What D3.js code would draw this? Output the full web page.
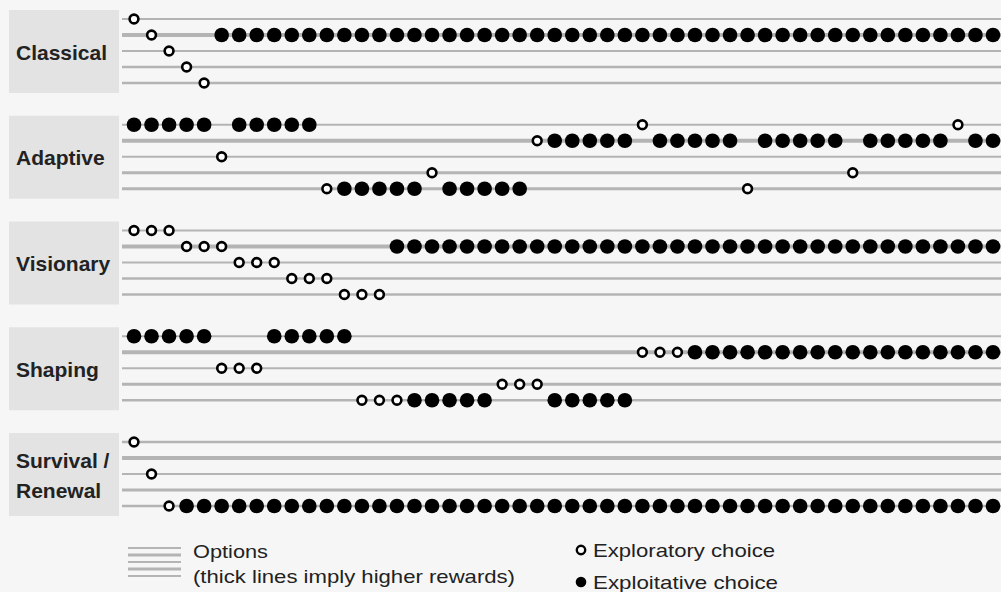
<!DOCTYPE html>
<html>
<head>
<meta charset="utf-8">
<script src="https://cdn.jsdelivr.net/npm/d3@7"></script>
<style>
  body { margin: 0; background: #f6f6f6; }
  text { font-family: "Liberation Sans", Arial, sans-serif; fill: #222; }
</style>
</head>
<body>
<svg id="chart" width="1001" height="592"></svg>
<script>
// strategies, top to bottom
var strategies = ['Classical', 'Adaptive', 'Visionary', 'Shaping', 'Survival / Renewal'];

// choices as runs: [option row, 'o' exploratory / 'x' exploitative, number of steps]
var classicalRuns = [[0,'o',1],[1,'o',1],[2,'o',1],[3,'o',1],[4,'o',1],[1,'x',45]];
var adaptiveRuns = [[0,'x',5],[2,'o',1],[0,'x',5],[4,'o',1],[4,'x',5],[3,'o',1],[4,'x',5],
  [1,'o',1],[1,'x',5],[0,'o',1],[1,'x',5],[4,'o',1],[1,'x',5],[3,'o',1],[1,'x',5],
  [0,'o',1],[1,'x',2]];
var visionaryRuns = [[0,'o',3],[1,'o',3],[2,'o',3],[3,'o',3],[4,'o',3],[1,'x',35]];
var shapingRuns = [[0,'x',5],[2,'o',3],[0,'x',5],[4,'o',3],[4,'x',5],[3,'o',3],[4,'x',5],
  [1,'o',3],[1,'x',18]];
var survivalRuns = [[0,'o',1],[2,'o',1],[4,'o',1],[4,'x',47]];
var allRuns = [classicalRuns, adaptiveRuns, visionaryRuns, shapingRuns, survivalRuns];

// option line weights (thicker = higher reward)
var optionWeights = [
  [2, 4, 2, 2.5, 2.5],
  [2, 4, 2, 3, 3],
  [2, 4, 2, 2.5, 2.5],
  [2, 4, 2, 3, 2.5],
  [2.5, 4, 2, 3, 2.5]
];

var legendWeights = [2, 3, 2, 3, 2];

var svg = d3.select('#chart');

var x = d3.scaleLinear().domain([0, 49]).range([134, 993]);
var panelY = d3.scaleLinear().domain([0, 4]).range([10, 433]);
var rowY = d3.scaleLinear().domain([0, 4]).range([9, 73]);

function expand(runs) {
  var out = [];
  runs.forEach(function (r) {
    for (var k = 0; k < r[2]; k++) out.push({ row: r[0], type: r[1] });
  });
  out.forEach(function (d, i) { d.step = i; });
  return out;
}

strategies.forEach(function (name, i) {
  var g = svg.append('g').attr('transform', 'translate(0,' + panelY(i) + ')');

  g.append('rect')
    .attr('x', 9).attr('y', 0)
    .attr('width', 110).attr('height', 83)
    .attr('fill', '#e3e3e3');

  var words = name === 'Survival / Renewal' ? ['Survival /', 'Renewal'] : [name];
  g.selectAll('text.label').data(words).enter()
    .append('text')
      .attr('class', 'label')
      .attr('x', 16)
      .attr('y', function (d, j) { return 42 + (j - (words.length - 1) / 2) * 30; })
      .attr('dy', '0.36em')
      .attr('font-size', 21)
      .attr('font-weight', 'bold')
      .text(function (d) { return d; });

  g.selectAll('line.opt').data(optionWeights[i]).enter()
    .append('line')
      .attr('class', 'opt')
      .attr('x1', 122).attr('x2', 1001)
      .attr('y1', function (d, r) { return rowY(r); })
      .attr('y2', function (d, r) { return rowY(r); })
      .attr('stroke', '#b4b4b4')
      .attr('stroke-width', function (d) { return d; });

  var choices = expand(allRuns[i]);
  g.selectAll('circle').data(choices).enter()
    .append('circle')
      .attr('cx', function (d) { return x(d.step); })
      .attr('cy', function (d) { return rowY(d.row); })
      .attr('r', function (d) { return d.type === 'x' ? 7.3 : 4.4; })
      .attr('fill', function (d) { return d.type === 'x' ? '#000' : '#fff'; })
      .attr('stroke', '#000')
      .attr('stroke-width', function (d) { return d.type === 'x' ? 0 : 2.6; });
});

// legend
var lg = svg.append('g');
lg.selectAll('line').data(legendWeights).enter()
  .append('line')
    .attr('x1', 128).attr('x2', 181)
    .attr('y1', function (d, k) { return 548 + k * 7; })
    .attr('y2', function (d, k) { return 548 + k * 7; })
    .attr('stroke', '#b4b4b4')
    .attr('stroke-width', function (d) { return d; });

lg.append('text').attr('x', 193).attr('y', 558).attr('font-size', 19)
  .attr('textLength', 75).attr('lengthAdjust', 'spacingAndGlyphs').text('Options');
lg.append('text').attr('x', 193).attr('y', 583).attr('font-size', 19)
  .attr('textLength', 322).attr('lengthAdjust', 'spacingAndGlyphs').text('(thick lines imply higher rewards)');

lg.append('circle').attr('cx', 581).attr('cy', 550).attr('r', 4.2)
  .attr('fill', '#fff').attr('stroke', '#000').attr('stroke-width', 2.4);
lg.append('text').attr('x', 593).attr('y', 557).attr('font-size', 19)
  .attr('textLength', 182).attr('lengthAdjust', 'spacingAndGlyphs').text('Exploratory choice');
lg.append('circle').attr('cx', 581).attr('cy', 582).attr('r', 5.3).attr('fill', '#000');
lg.append('text').attr('x', 593).attr('y', 589).attr('font-size', 19)
  .attr('textLength', 185).attr('lengthAdjust', 'spacingAndGlyphs').text('Exploitative choice');
</script>
</body>
</html>
